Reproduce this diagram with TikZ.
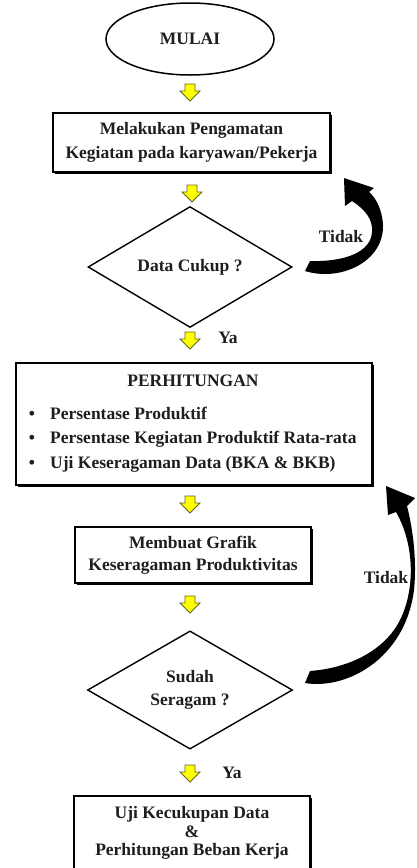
\documentclass[tikz,border=0pt]{standalone}
\usepackage{fontspec}
\setmainfont{Liberation Serif}
\usetikzlibrary{shapes.geometric,shadows}
\definecolor{txt}{RGB}{30,30,30}
\definecolor{ylw}{RGB}{255,255,0}
\definecolor{ylwedge}{RGB}{100,100,40}
\tikzset{
  lbl/.style={font=\bfseries\fontsize{17.5}{24}\selectfont, text=txt, inner sep=0pt},
  procbox/.style={draw, line width=1.8pt, rectangle, fill=white,
     drop shadow={shadow xshift=1.6pt, shadow yshift=-1.6pt, fill=black, opacity=1},
     lbl, align=center},
  decision/.style={draw, line width=1.4pt, diamond, inner sep=0pt, lbl, align=center},
  yarrow/.style={draw=ylwedge, fill=ylw, line width=0.9pt, line join=miter},
  loopshape/.style={fill=black, draw=none}
}
\newcommand{\downblock}[1]{\draw[yarrow] (#1) +(-5,-8) -- +(5,-8) -- +(5,-1) -- +(10,-1) -- +(0,9) -- +(-10,-1) -- +(-5,-1) -- cycle;}
\begin{document}
\begin{tikzpicture}[x=1pt,y=-1pt]
\useasboundingbox (0,0) rectangle (416,868);
\clip (0,0) rectangle (416,868);

\node[ellipse, draw, line width=1.5pt, minimum width=168pt, minimum height=72pt, lbl] (start) at (190,39) {MULAI};
\coordinate (a1) at (190,92); \downblock{a1}

\node[procbox, minimum width=277pt, minimum height=59pt] (obs) at (191.5,142.5) {Melakukan Pengamatan\\Kegiatan pada karyawan/Pekerja};
\coordinate (a2) at (192,193); \downblock{a2}

\node[decision, minimum width=204pt, minimum height=116pt] (dc) at (190,267) {Data Cukup ?};
\coordinate (a3) at (190,340); \downblock{a3}
\node[lbl] (ya1) at (228,338) {Ya};

\node[procbox, minimum width=356pt, minimum height=122pt] (calc) at (194,424) {};
\node[lbl, anchor=base] (calct) at (193,386) {PERHITUNGAN};
\node[lbl, anchor=base] (b1) at (32,419) {•};
\node[lbl, anchor=base west] (t1) at (50,419) {Persentase Produktif};
\node[lbl, anchor=base] (b2) at (32,443) {•};
\node[lbl, anchor=base west] (t2) at (50,443) {Persentase Kegiatan Produktif Rata-rata};
\node[lbl, anchor=base] (b3) at (32,468) {•};
\node[lbl, anchor=base west] (t3) at (50,468) {Uji Keseragaman Data (BKA \& BKB)};

\coordinate (a4) at (190,504); \downblock{a4}
\node[procbox, minimum width=236pt, minimum height=56pt, font=\bfseries\fontsize{17.5}{22}\selectfont] (graf) at (193,555) {Membuat Grafik\\Keseragaman Produktivitas};
\coordinate (a5) at (190,604); \downblock{a5}

\node[decision, minimum width=205pt, minimum height=115pt, font=\bfseries\fontsize{17.5}{23}\selectfont] (ds) at (190,690) {Sudah\\Seragam ?};
\coordinate (a6) at (190,773); \downblock{a6}
\node[lbl] (ya2) at (232,773) {Ya};

\node[procbox, minimum width=236pt, minimum height=84pt] (end) at (192,838) {};
\node[lbl, align=center, font=\bfseries\fontsize{17.5}{18.5}\selectfont] (endt) at (192,833) {Uji Kecukupan Data\\\&\\Perhitungan Beban Kerja};

% loop arrow 1
\fill[loopshape] (305,271)
  .. controls (340,282) and (384,262) .. (383,225)
  .. controls (382,208) and (375,197) .. (369,192)
  -- (374,188) -- (344,178) -- (345,206) -- (352,201)
  .. controls (366,210) and (373,220) .. (372,232)
  .. controls (371,252) and (345,262) .. (310,261) -- cycle;
\node[lbl] (no1) at (341,237) {Tidak};

% loop arrow 2
\fill[loopshape] (305,683)
  .. controls (345,690) and (405,660) .. (414,590)
  .. controls (417,560) and (413,530) .. (407,506)
  -- (415,498) -- (386,486) -- (388,515) -- (396,512)
  .. controls (415,545) and (415,590) .. (400,620)
  .. controls (385,650) and (350,668) .. (310,671) -- cycle;
\node[lbl] (no2) at (386,578) {Tidak};
\end{tikzpicture}
\end{document}
